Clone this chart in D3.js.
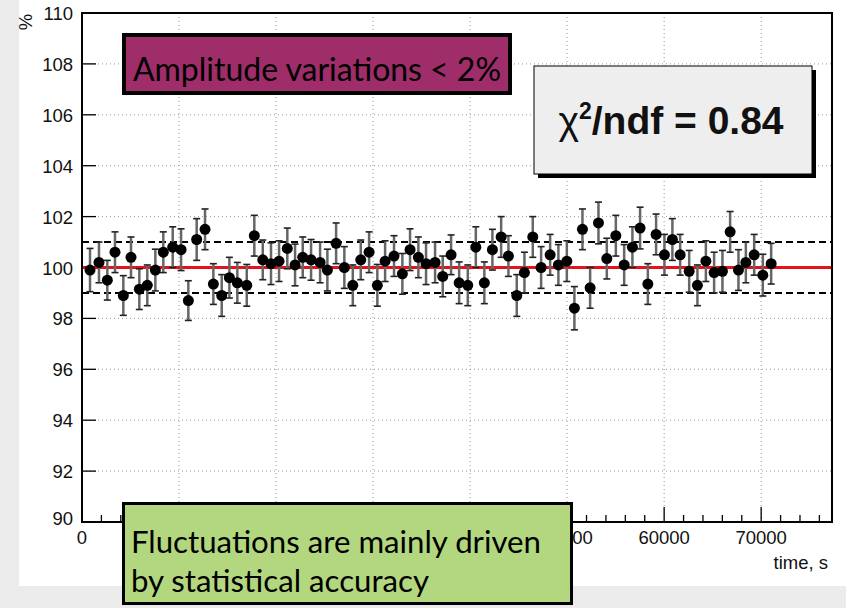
<!DOCTYPE html>
<html>
<head>
<meta charset="utf-8">
<script src="https://cdn.jsdelivr.net/npm/d3@7"></script>
<style>
  html, body { margin: 0; padding: 0; background: #ebebeb; }
  svg { display: block; }
</style>
</head>
<body>
<svg id="chart" width="846" height="608"></svg>
<script>
// measured points (time in s, amplitude in %)
const times = [825, 1750, 2610, 3400, 4260, 5050, 5910, 6730, 7560, 8380,
  9350, 10210, 10960, 11820, 12680, 13540, 14400, 15190, 16010, 16980,
  17760, 18630, 19480, 20310, 21160, 21960, 22750, 23610, 24540, 25290,
  26190, 27040, 27910, 28730, 29590, 30440, 31240, 32160, 33020, 33810,
  34670, 35460, 36390, 37180, 38040, 38870, 39760, 40590, 41470, 42300,
  43200, 43950, 44810, 45600, 46460, 47320, 48250, 49100, 49970, 50750,
  51580, 52370, 53230, 54090, 55020, 55880, 56730, 57520, 58320, 59170,
  60030, 60850, 61650, 62580, 63430, 64300, 65150, 66010, 66800, 67660,
  68420, 69280, 70170, 71030];
const values = [99.9, 100.2, 99.5, 100.6, 98.9, 100.4, 99.15, 99.3, 99.9, 100.6,
  100.8, 100.7, 98.7, 101.1, 101.5, 99.35, 98.9, 99.6, 99.4, 99.3,
  101.25, 100.3, 100.15, 100.25, 100.75, 100.1, 100.4, 100.3, 100.2, 99.9,
  100.95, 100.0, 99.3, 100.3, 100.6, 99.3, 100.25, 100.45, 99.75, 100.7,
  100.4, 100.15, 100.2, 99.65, 100.5, 99.4, 99.3, 100.8, 99.4, 100.7,
  101.2, 100.45, 98.9, 99.8, 101.2, 100.0, 100.5, 100.1, 100.25, 98.4,
  101.5, 99.2, 101.75, 100.35, 101.25, 100.1, 100.8, 101.55, 99.35, 101.3,
  100.5, 101.1, 100.5, 99.85, 99.3, 100.25, 99.8, 99.85, 101.4, 99.9,
  100.2, 100.5, 99.7, 100.15];
const errors = [0.85, 0.8, 0.78, 0.8, 0.78, 0.8, 0.8, 0.8, 0.82, 0.8,
  0.8, 0.82, 0.78, 0.82, 0.8, 0.8, 0.82, 0.8, 0.8, 0.82,
  0.8, 0.78, 0.82, 0.8, 0.8, 0.82, 0.8, 0.8, 0.8, 0.82,
  0.8, 0.82, 0.8, 0.78, 0.8, 0.82, 0.8, 0.8, 0.8, 0.82,
  0.8, 0.82, 0.8, 0.8, 0.78, 0.82, 0.8, 0.8, 0.82, 0.8,
  0.8, 0.8, 0.82, 0.8, 0.8, 0.82, 0.8, 0.8, 0.8, 0.85,
  0.8, 0.8, 0.82, 0.8, 0.8, 0.8, 0.8, 0.82, 0.8, 0.8,
  0.8, 0.82, 0.8, 0.82, 0.8, 0.8, 0.8, 0.82, 0.8, 0.8,
  0.8, 0.8, 0.82, 0.8];

const xTicks = [0, 10000, 20000, 30000, 40000, 50000, 60000, 70000];
// labels 10000..40000 sit under the green note in the original
const xLabels = [0, 50000, 60000, 70000];
const yTicks = [90, 92, 94, 96, 98, 100, 102, 104, 106, 108, 110];
const fitValue = 100;
const bandLines = [99, 101];
const chiText = "0.84";

const svg = d3.select("#chart");
const x = d3.scaleLinear().domain([0, 77300]).range([82, 832]);
const y = d3.scaleLinear().domain([90, 110]).range([522, 13]);

// canvas
svg.append("rect").attr("x", 19).attr("y", 0).attr("width", 827).attr("height", 586).attr("fill", "#fff");

// grid
const grid = svg.append("g").attr("stroke", "#999").attr("stroke-width", 1).attr("stroke-dasharray", "1,3");
grid.selectAll(".gx").data(xTicks.slice(1)).enter().append("line")
  .attr("x1", d => x(d)).attr("x2", d => x(d)).attr("y1", y(90)).attr("y2", y(110));
grid.selectAll(".gy").data(yTicks.slice(1, -1)).enter().append("line")
  .attr("x1", x.range()[0]).attr("x2", x.range()[1]).attr("y1", d => y(d)).attr("y2", d => y(d));

// ticks (inside the frame, ROOT style)
const ticks = svg.append("g").attr("stroke", "#000").attr("stroke-width", 1.3);
ticks.selectAll(".ty").data(yTicks).enter().append("line")
  .attr("x1", x(0)).attr("x2", x(0) + 14).attr("y1", d => y(d)).attr("y2", d => y(d));
ticks.selectAll(".tx").data(xTicks).enter().append("line")
  .attr("x1", d => x(d)).attr("x2", d => x(d)).attr("y1", y(90)).attr("y2", y(90) - 15);
const minorX = d3.range(0, 77300, 2000).filter(d => d % 10000 !== 0);
ticks.selectAll(".mx").data(minorX).enter().append("line")
  .attr("x1", d => x(d)).attr("x2", d => x(d)).attr("y1", y(90)).attr("y2", y(90) - 7);

// band and fit lines
svg.selectAll(".band").data(bandLines).enter().append("line")
  .attr("x1", x.range()[0]).attr("x2", x.range()[1])
  .attr("y1", d => y(d)).attr("y2", d => y(d))
  .attr("stroke", "#000").attr("stroke-width", 2).attr("stroke-dasharray", "7,4");
svg.append("line")
  .attr("x1", x.range()[0]).attr("x2", x.range()[1])
  .attr("y1", y(fitValue)).attr("y2", y(fitValue))
  .attr("stroke", "#e3121b").attr("stroke-width", 3);

// points with error bars
const pts = times.map((t, i) => ({ t: t, v: values[i], e: errors[i] }));
const pg = svg.append("g");
pg.selectAll(".eb").data(pts).enter().append("line")
  .attr("x1", d => x(d.t)).attr("x2", d => x(d.t))
  .attr("y1", d => y(d.v - d.e)).attr("y2", d => y(d.v + d.e))
  .attr("stroke", "#666").attr("stroke-width", 2.5);
["capT", "capB"].forEach((c, k) => {
  pg.selectAll("." + c).data(pts).enter().append("line")
    .attr("x1", d => x(d.t) - 3.5).attr("x2", d => x(d.t) + 3.5)
    .attr("y1", d => y(k ? d.v - d.e : d.v + d.e)).attr("y2", d => y(k ? d.v - d.e : d.v + d.e))
    .attr("stroke", "#222").attr("stroke-width", 1.6);
});
pg.selectAll("circle").data(pts).enter().append("circle")
  .attr("cx", d => x(d.t)).attr("cy", d => y(d.v)).attr("r", 5.5)
  .attr("fill", "#000");

// frame
svg.append("rect")
  .attr("x", x.range()[0]).attr("y", y(110))
  .attr("width", x.range()[1] - x.range()[0]).attr("height", y(90) - y(110))
  .attr("fill", "none").attr("stroke", "#000").attr("stroke-width", 2);

// axis labels
const lab = svg.append("g").attr("font-family", "'Liberation Sans', Arial, sans-serif").attr("font-size", 18.5).attr("fill", "#111");
lab.selectAll(".ly").data(yTicks.slice(1)).enter().append("text")
  .attr("x", 73).attr("y", d => y(d) + 7).attr("text-anchor", "end").text(d => d);
lab.append("text").attr("x", 73).attr("y", y(90) + 3).attr("text-anchor", "end").text(yTicks[0]);
lab.selectAll(".lx").data(xLabels).enter().append("text")
  .attr("x", d => x(d)).attr("y", y(90) + 22).attr("text-anchor", "middle").text(d => d);
lab.append("text").attr("x", 828).attr("y", 569).attr("text-anchor", "end").text("time, s");
lab.append("text").attr("transform", "translate(32,22) rotate(-90)").attr("text-anchor", "middle").text("%");

// chi2 box
svg.append("rect").attr("x", 538).attr("y", 70).attr("width", 278).attr("height", 108).attr("fill", "#000");
svg.append("rect").attr("x", 534).attr("y", 66).attr("width", 278).attr("height", 108)
  .attr("fill", "#eeeeee").attr("stroke", "#000").attr("stroke-width", 1);
const chi = svg.append("text").attr("x", 671).attr("y", 134).attr("text-anchor", "middle")
  .attr("font-family", "'Liberation Sans', Arial, sans-serif").attr("font-weight", "bold")
  .attr("font-size", 39).attr("fill", "#111");
chi.append("tspan").attr("font-weight", "normal").text("\u03c7");
chi.append("tspan").attr("font-size", 23).attr("dy", -15).text("2");
chi.append("tspan").attr("dy", 15).text("/ndf = " + chiText);

// annotation boxes
svg.append("rect").attr("x", 124).attr("y", 35).attr("width", 386).attr("height", 58)
  .attr("fill", "#9e2d69").attr("stroke", "#000").attr("stroke-width", 4);
svg.append("text").attr("x", 133).attr("y", 81)
  .attr("font-family", "Lato, 'Open Sans', sans-serif").attr("font-size", 32).attr("fill", "#000")
  .attr("textLength", 368).attr("lengthAdjust", "spacingAndGlyphs")
  .text("Amplitude variations < 2%");

svg.append("rect").attr("x", 123.5).attr("y", 503.5).attr("width", 448).attr("height", 100)
  .attr("fill", "#b3d77f").attr("stroke", "#000").attr("stroke-width", 3);
const g2 = svg.append("text").attr("font-family", "Lato, 'Open Sans', sans-serif").attr("font-size", 31).attr("fill", "#000");
g2.append("tspan").attr("x", 131).attr("y", 553)
  .attr("textLength", 410).attr("lengthAdjust", "spacingAndGlyphs").text("Fluctuations are mainly driven");
g2.append("tspan").attr("x", 131).attr("y", 592)
  .attr("textLength", 298).attr("lengthAdjust", "spacingAndGlyphs").text("by statistical accuracy");
</script>
</body>
</html>
